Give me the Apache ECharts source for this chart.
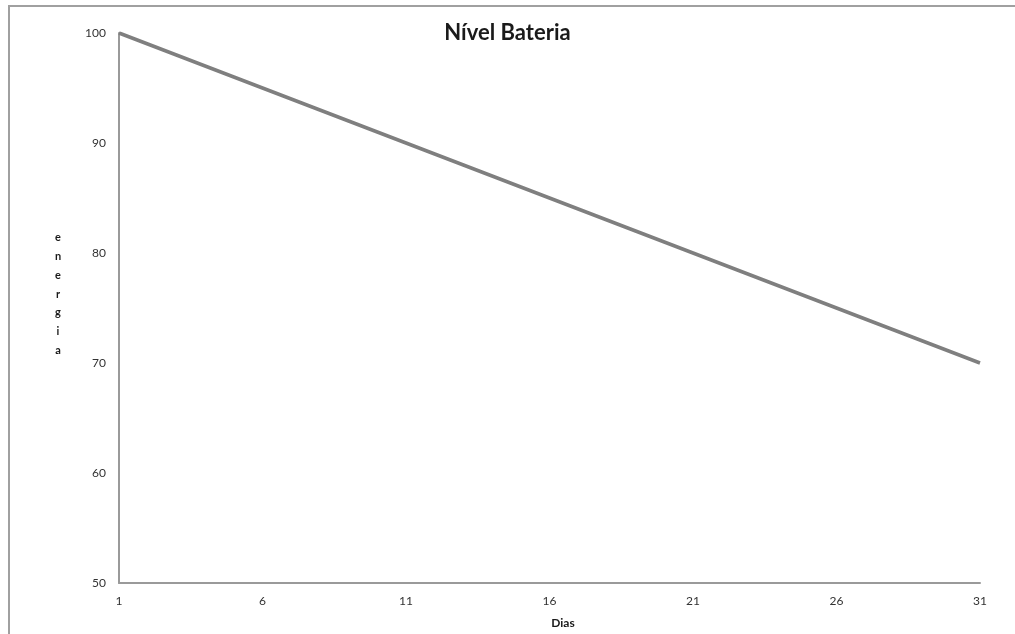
<!DOCTYPE html>
<html>
<head>
<meta charset="utf-8">
<script src="https://cdn.jsdelivr.net/npm/echarts@6/dist/echarts.min.js"></script>
<style>
html,body{margin:0;padding:0;background:#fff;}
#chart{width:1015px;height:634px;}
</style>
</head>
<body>
<div id="chart"></div>
<script>
const days = [1,2,3,4,5,6,7,8,9,10,11,12,13,14,15,16,17,18,19,20,21,22,23,24,25,26,27,28,29,30,31];
const energy = [100,99,98,97,96,95,94,93,92,91,90,89,88,87,86,85,84,83,82,81,80,79,78,77,76,75,74,73,72,71,70];
const yTicks = [50,60,70,80,90,100];
const titleText = 'Nível Bateria';
const xName = 'Dias';
const yName = 'energia';

const FONT = 'Lato, "Open Sans", sans-serif';
const chart = echarts.init(document.getElementById('chart'));
chart.setOption({
  animation: false,
  backgroundColor: '#fff',
  title: {
    text: titleText,
    left: 'center',
    top: 17,
    textStyle: { fontFamily: FONT, fontWeight: 'bold', fontSize: 22, color: '#1a1a1a' }
  },
  graphic: [{
    type: 'rect',
    shape: { x: 9, y: 6, width: 1100, height: 700 },
    style: { fill: 'none', stroke: '#a0a0a0', lineWidth: 2 },
    silent: true
  }, {
    type: 'text',
    x: 58,
    y: 294,
    silent: true,
    style: {
      text: yName.split('').join('\n'),
      fontFamily: FONT,
      fontWeight: 'bold',
      fontSize: 11,
      lineHeight: 18.7,
      fill: '#1a1a1a',
      align: 'center',
      verticalAlign: 'middle'
    }
  }],
  grid: { left: 119, right: 35, top: 33, bottom: 49, containLabel: false },
  xAxis: {
    type: 'category',
    data: days.map(String),
    boundaryGap: false,
    name: xName,
    nameLocation: 'middle',
    nameGap: 34,
    nameTextStyle: { fontFamily: FONT, fontWeight: 'bold', fontSize: 12, color: '#1a1a1a', padding: [0, 0, 0, 27] },
    axisLine: { lineStyle: { color: '#9a9a9a', width: 2 } },
    axisTick: { show: false },
    axisLabel: { interval: 4, margin: 12, fontFamily: FONT, fontSize: 12, color: '#333' },
    splitLine: { show: false }
  },
  yAxis: {
    type: 'value',
    min: yTicks[0],
    max: yTicks[yTicks.length - 1],
    interval: 10,
    axisLine: { show: true, lineStyle: { color: '#9a9a9a', width: 2 } },
    axisTick: { show: false },
    axisLabel: { margin: 13, fontFamily: FONT, fontSize: 12, color: '#333' },
    splitLine: { show: false }
  },
  series: [{
    type: 'line',
    data: energy,
    symbol: 'none',
    lineStyle: { color: '#7f7f7f', width: 3.5 }
  }]
});
</script>
</body>
</html>
